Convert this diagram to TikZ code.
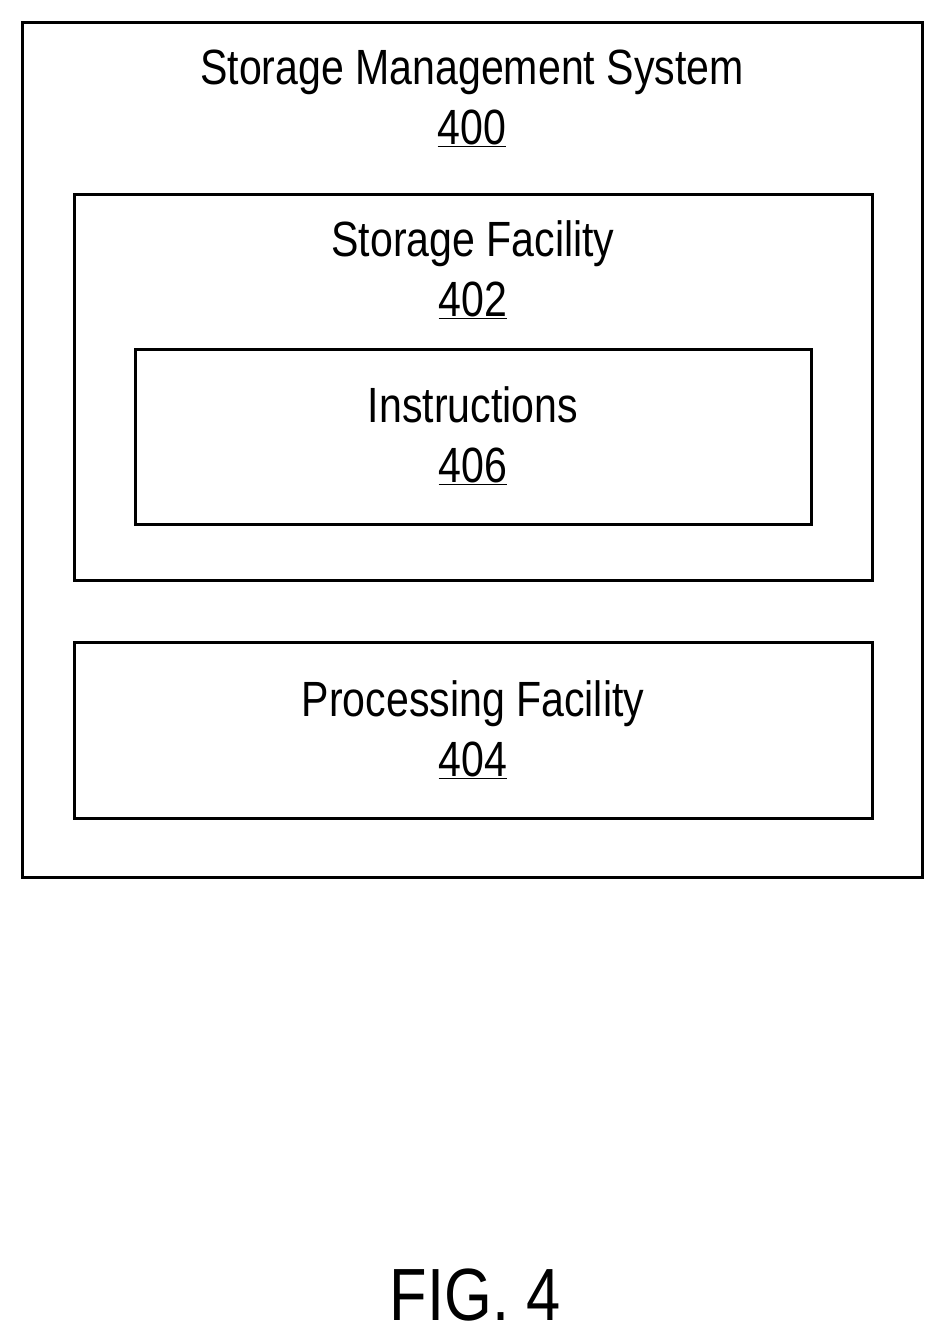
\documentclass[tikz,border=0pt]{standalone}
\usepackage{fontspec}
\setmainfont{Liberation Sans}[FakeStretch=0.83]
\usetikzlibrary{positioning}
\tikzset{
  box/.style={rectangle, draw=black, line width=3pt, inner sep=0pt},
  label/.style={align=center, font=\fontsize{49.5}{60}\selectfont, inner sep=0pt}
}
\begin{document}
\begin{tikzpicture}[x=1pt,y=-1pt]
\useasboundingbox (0,0) rectangle (944,1342);
\node (system) [box, minimum width=900pt, minimum height=855pt] at (472,449.5) {};
\node (storage) [box, minimum width=798pt, minimum height=386pt] at (473,387) {};
\node (instr) [box, minimum width=676pt, minimum height=175pt] at (473,436.5) {};
\node (proc) [box, minimum width=798pt, minimum height=176pt] at (473,730) {};

\node (system text) [label] at (472,98) {Storage Management System\\\underline{400}};
\node (storage text) [label] at (473,270) {Storage Facility\\\underline{402}};
\node (instr text) [label] at (473,436) {Instructions\\\underline{406}};
\node (proc text) [label] at (473,730) {Processing Facility\\\underline{404}};

\node (fig) [label, font=\fontsize{74}{80}\selectfont] at (475,1295) {FIG. 4};
\end{tikzpicture}
\end{document}
